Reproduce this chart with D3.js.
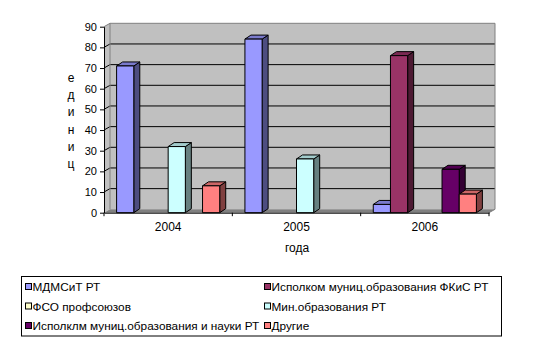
<!DOCTYPE html>
<html><head><meta charset="utf-8">
<script src="https://cdn.jsdelivr.net/npm/d3@7"></script>
<style>
html,body{margin:0;padding:0;background:#fff;}
svg{display:block;font-family:"Liberation Sans",Arial,sans-serif;}
</style></head>
<body>
<svg id="c" width="555" height="347"></svg>
<script>
const years = ["2004", "2005", "2006"];
const seriesNames = ["МДМСиТ РТ", "Исполком муниц.образования ФКиС РТ", "ФСО профсоюзов", "Мин.образования РТ", "Исполклм муниц.образования и науки РТ", "Другие"];
const seriesColors = ["#9999FF", "#993366", "#FFFFCC", "#CCFFFF", "#660066", "#FF8080"];
const valsMDMSiT = [71, 84, 4];
const valsIspolkomFKiS = [0, 0, 76];
const valsFSO = [0, 0, 0];
const valsMinObr = [32, 26, 0];
const valsIspolklmNauki = [0, 0, 21];
const valsDrugie = [13, 0, 9];
const seriesValues = [valsMDMSiT, valsIspolkomFKiS, valsFSO, valsMinObr, valsIspolklmNauki, valsDrugie];
const yTicks = [0, 10, 20, 30, 40, 50, 60, 70, 80, 90];
const yTitle = "единиц";
const xTitle = "года";

const svg = d3.select("#c");
const x0 = 104, x1 = 489, yZero = 212.7, yTop = 26.7;
const wdx = 6, wdy = -3.4;   // wall depth
const bdx = 6, bdy = -4;     // bar depth

const x = d3.scaleBand().domain(years).range([x0, x1]).padding(0);
const xs = d3.scaleBand().domain(d3.range(seriesNames.length))
  .range([12.6, x.bandwidth() - 12.6]).padding(0);
const y = d3.scaleLinear().domain([0, 90]).range([yZero, yTop]);

const g = svg.append("g");
// left side wall
g.append("path").attr("d", `M${x0},${y(90)}L${x0+wdx},${y(90)+wdy}L${x0+wdx},${yZero+wdy}L${x0},${yZero}Z`)
  .attr("fill", "#C0C0C0");
// back wall
g.append("rect").attr("x", x0 + wdx).attr("y", y(90) + wdy)
  .attr("width", x1 + wdx - (x0 + wdx)).attr("height", yZero - y(90))
  .attr("fill", "#C0C0C0");
// floor
g.append("path").attr("d", `M${x0},${yZero}L${x1},${yZero}L${x1+wdx},${yZero+wdy}L${x0+wdx},${yZero+wdy}Z`)
  .attr("fill", "#808080");
// gridlines
yTicks.filter(t => t > 0 && t < 90).forEach(t => {
  g.append("path").attr("d", `M${x0},${y(t)}L${x0+wdx},${y(t)+wdy}L${x1+wdx},${y(t)+wdy}`)
    .attr("fill", "none").attr("stroke", "#000").attr("stroke-width", 1);
});
// wall borders
g.append("path").attr("d", `M${x0},${y(90)}L${x0+wdx},${y(90)+wdy}L${x1+wdx},${y(90)+wdy}L${x1+wdx},${yZero+wdy}L${x1},${yZero}`)
  .attr("fill", "none").attr("stroke", "#808080").attr("stroke-width", 1);
g.append("line").attr("x1", x0 + wdx).attr("x2", x0 + wdx).attr("y1", y(90) + wdy).attr("y2", yZero + wdy)
  .attr("stroke", "#808080").attr("stroke-width", 1);

// bars
function shade(c, k) { const r = d3.rgb(c); return d3.rgb(r.r * k, r.g * k, r.b * k).formatHex(); }
years.forEach((yr, ci) => {
  seriesValues.forEach((vals, si) => {
    const v = vals[ci];
    if (!v) return;
    const bx = x(yr) + xs(si), bw = xs.bandwidth();
    const top = y(v), bot = y(0);
    const col = seriesColors[si];
    const bg = g.append("g").attr("stroke", "#000").attr("stroke-width", 1).attr("stroke-linejoin", "round");
    bg.append("path").attr("d", `M${bx+bw},${bot}L${bx+bw+bdx},${bot+bdy}L${bx+bw+bdx},${top+bdy}L${bx+bw},${top}Z`)
      .attr("fill", shade(col, 0.5));
    bg.append("path").attr("d", `M${bx},${top}L${bx+bdx},${top+bdy}L${bx+bw+bdx},${top+bdy}L${bx+bw},${top}Z`)
      .attr("fill", shade(col, 0.8));
    bg.append("rect").attr("x", bx).attr("y", top).attr("width", bw).attr("height", bot - top)
      .attr("fill", col);
  });
});

// y axis
const yAxis = d3.axisLeft(y).tickValues(yTicks).tickSize(4).tickPadding(3).tickSizeOuter(0);
const ya = svg.append("g").attr("transform", `translate(${x0},0)`).call(yAxis);
ya.select(".domain").attr("stroke", "#000");
ya.selectAll("text").attr("font-size", 11).attr("fill", "#000").attr("font-family", "Liberation Sans, Arial, sans-serif");

// x axis
const xAxis = d3.axisBottom(x).tickSize(0).tickPadding(10).tickSizeOuter(0);
const xa = svg.append("g").attr("transform", `translate(0,${yZero})`).call(xAxis);
xa.select(".domain").attr("stroke", "#000");
xa.selectAll("text").attr("font-size", 12).attr("fill", "#000").attr("font-family", "Liberation Sans, Arial, sans-serif");
// category boundary ticks
[x0].concat(years.map(d => x(d) + x.bandwidth())).forEach(px => {
  svg.append("line").attr("x1", px).attr("x2", px).attr("y1", yZero).attr("y2", yZero + 3.5).attr("stroke", "#000");
});

// titles
const yt = svg.append("text").attr("font-size", 12).attr("fill", "#000").attr("text-anchor", "middle");
yTitle.split("").forEach((ch, i) => {
  yt.append("tspan").attr("x", 71).attr("y", 82 + i * 17.2).text(ch);
});
svg.append("text").attr("x", 297).attr("y", 252).attr("font-size", 12).attr("text-anchor", "middle")
  .attr("fill", "#000").text(xTitle);

// legend
svg.append("rect").attr("x", 21.5).attr("y", 276.5).attr("width", 480).attr("height", 59.5)
  .attr("fill", "#fff").attr("stroke", "#000").attr("stroke-width", 1);
const colX = [25, 264], rowY = [287, 306.5, 326];
seriesNames.forEach((name, i) => {
  const cx = colX[i % 2], cy = rowY[Math.floor(i / 2)];
  svg.append("rect").attr("x", cx + 0.5).attr("y", cy - 3.5).attr("width", 6).attr("height", 6)
    .attr("fill", seriesColors[i]).attr("stroke", "#000").attr("stroke-width", 1);
  svg.append("text").attr("x", cx + 7.5).attr("y", cy + 4.2).attr("font-size", 11.8).attr("fill", "#000").text(name);
});
</script>
</body></html>
